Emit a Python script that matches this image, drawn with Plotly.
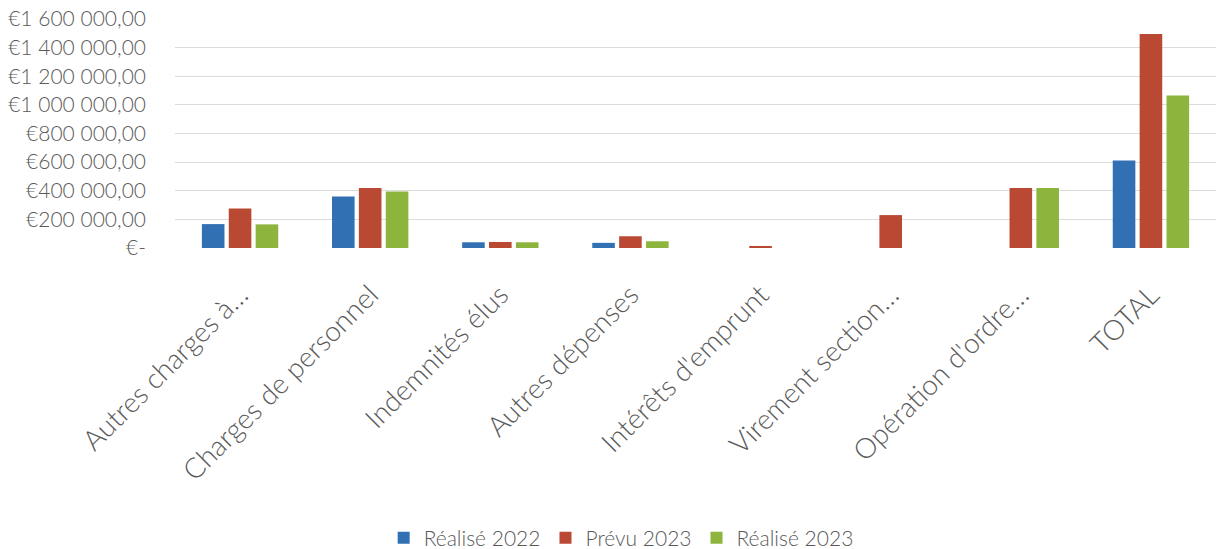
import plotly.graph_objects as go

# Budget lines (x axis)
categories = [
    "Autres charges à…",
    "Charges de personnel",
    "Indemnités élus",
    "Autres dépenses",
    "Intérêts d'emprunt",
    "Virement section…",
    "Opération d'ordre…",
    "TOTAL",
]

# Amounts in euros per series (None = no bar)
realise_2022 = [167000, 360000, 40000, 36000, None, None, None, 612000]
prevu_2023 = [276000, 419000, 42000, 82000, 8000, 230000, 420000, 1495000]
realise_2023 = [165000, 394000, 40000, 47000, None, None, 420000, 1065000]

series_names = ["Réalisé 2022", "Prévu 2023", "Réalisé 2023"]
series_colors = ["#3270B4", "#BA4934", "#8DB43C"]

# Value axis ticks and their formatted labels
tick_values = [0, 200000, 400000, 600000, 800000, 1000000, 1200000, 1400000, 1600000]
tick_labels = [
    "€-",
    "€200 000,00",
    "€400 000,00",
    "€600 000,00",
    "€800 000,00",
    "€1 000 000,00",
    "€1 200 000,00",
    "€1 400 000,00",
    "€1 600 000,00",
]

FONT = "Lato"
TEXT_COLOR = "#5a5a5a"

fig = go.Figure()
for name, values, color in zip(series_names, [realise_2022, prevu_2023, realise_2023], series_colors):
    fig.add_trace(
        go.Bar(
            x=categories,
            y=values,
            name=name,
            marker=dict(color=color, line=dict(width=0)),
        )
    )

fig.update_layout(
    width=1218,
    height=549,
    barmode="group",
    bargap=0.38,
    bargroupgap=0.16,
    plot_bgcolor="white",
    paper_bgcolor="white",
    margin=dict(l=175, r=2, t=19, b=301, autoexpand=False),
    font=dict(family=FONT, color=TEXT_COLOR, weight=300),
    showlegend=True,
    legend=dict(
        orientation="h",
        x=0.4286,
        xanchor="center",
        y=-1.2664,
        yanchor="middle",
        font=dict(size=21, color=TEXT_COLOR, weight=300),
        itemwidth=30,
        traceorder="normal",
    ),
)

fig.update_xaxes(
    tickangle=-45,
    tickfont=dict(size=28, color=TEXT_COLOR, weight=300),
    showgrid=False,
    showline=False,
    ticks="",
    automargin=False,
    ticklabelstandoff=24,
)

fig.update_yaxes(
    range=[0, 1600000],
    tickvals=tick_values,
    ticktext=tick_labels,
    tickfont=dict(size=21, color=TEXT_COLOR, weight=300),
    showgrid=True,
    gridcolor="#dcdcdc",
    gridwidth=1,
    zeroline=False,
    showline=False,
    ticks="",
    automargin=False,
    ticklabelstandoff=28,
)

fig.write_html("out.html")
